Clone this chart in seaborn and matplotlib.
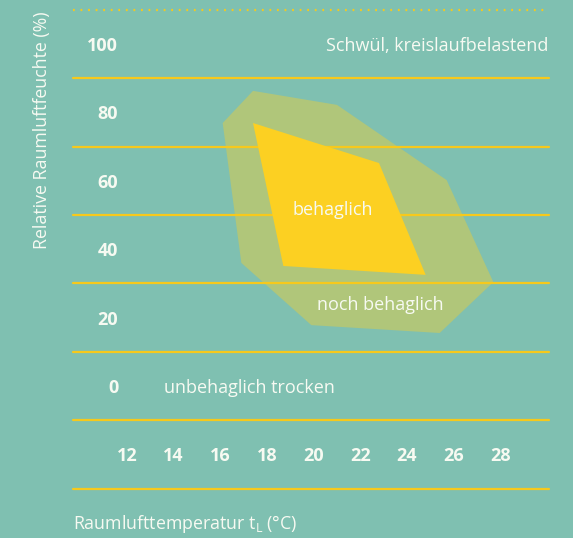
import numpy as np
import pandas as pd
import seaborn as sns
import matplotlib.pyplot as plt

# ========== data ==========
temp_ticks = [12, 14, 16, 18, 20, 22, 24, 26, 28]
rh_ticks = [100, 80, 60, 40, 20, 0]
band_lines = [90, 70, 50, 30, 10, -10, -30]   # solid separators
top_dotted = 110

# "noch behaglich" zone (temperature, relative humidity)
outer_t = [17.4, 21.0, 25.7, 27.7, 25.4, 19.9, 16.9, 16.1]
outer_rh = [86.3, 82.2, 60.2, 30.4, 15.5, 17.8, 36.0, 76.9]
# "behaglich" zone
inner_t = [17.4, 22.8, 24.8, 18.7]
inner_rh = [76.9, 65.2, 32.5, 35.1]

BG = '#7fc0b1'
OLIVE = '#b0c67a'
YELLOW = '#fcd022'
LINE = '#f6c91c'
WHITE = '#f7faf2'

sns.set_theme(style='white')
plt.rcParams['font.family'] = ['Open Sans', 'DejaVu Sans']

fig = plt.figure(figsize=(5.73, 5.38), dpi=100, facecolor=BG)
ax = fig.add_axes([0, 0, 1, 1], facecolor=BG)
ax.set_xlim(6.557, 31.114)
ax.set_ylim(-44.44, 112.87)
ax.axis('off')

x0, x1 = 9.69, 30.09
dy = -0.6  # small nudge so text sits optically centred

ax.fill(outer_t, outer_rh, color=OLIVE, lw=0, zorder=1)

lines = pd.DataFrame({
    'x': np.tile([x0, x1], len(band_lines)),
    'y': np.repeat(band_lines, 2),
    'g': np.repeat(range(len(band_lines)), 2),
})
sns.lineplot(data=lines, x='x', y='y', units='g', estimator=None,
             color=LINE, lw=1.6, ax=ax, zorder=2)
ax.plot([x0, x1], [top_dotted, top_dotted], color=LINE, lw=1.6,
        ls=(0, (0.8, 2.6)), zorder=2)

ax.fill(inner_t, inner_rh, color=YELLOW, lw=0, zorder=3)

# tick labels
for v in rh_ticks:
    ax.text(11.62, v + dy, str(v), ha='right', va='center', color=WHITE,
            fontsize=13, fontweight='bold', zorder=4)
for t in temp_ticks:
    ax.text(t, -20 + dy, str(t), ha='center', va='center', color=WHITE,
            fontsize=13, fontweight='bold', zorder=4)

# zone labels
ax.text(30.05, 100 + dy, 'Schwül, kreislaufbelastend', ha='right', va='center',
        color=WHITE, fontsize=13, zorder=4)
ax.text(13.6, 0 + dy, 'unbehaglich trocken', ha='left', va='center',
        color=WHITE, fontsize=13, zorder=4)
ax.text(20.8, 52 + dy, 'behaglich', ha='center', va='center',
        color=WHITE, fontsize=13, zorder=4)
ax.text(22.85, 24.3 + dy, 'noch behaglich', ha='center', va='center',
        color=WHITE, fontsize=13, zorder=4)

# axis titles
fig.text(42 / 573, 1 - 130 / 538, 'Relative Raumluftfeuchte (%)', rotation=90,
         ha='center', va='center', color=WHITE, fontsize=12.8)
fig.text(73 / 573, 1 - 524 / 538, 'Raumlufttemperatur t$_\\mathregular{L}$ (°C)',
         ha='left', va='center', color=WHITE, fontsize=12.8)

fig.savefig('out.png', dpi=100, facecolor=BG)
